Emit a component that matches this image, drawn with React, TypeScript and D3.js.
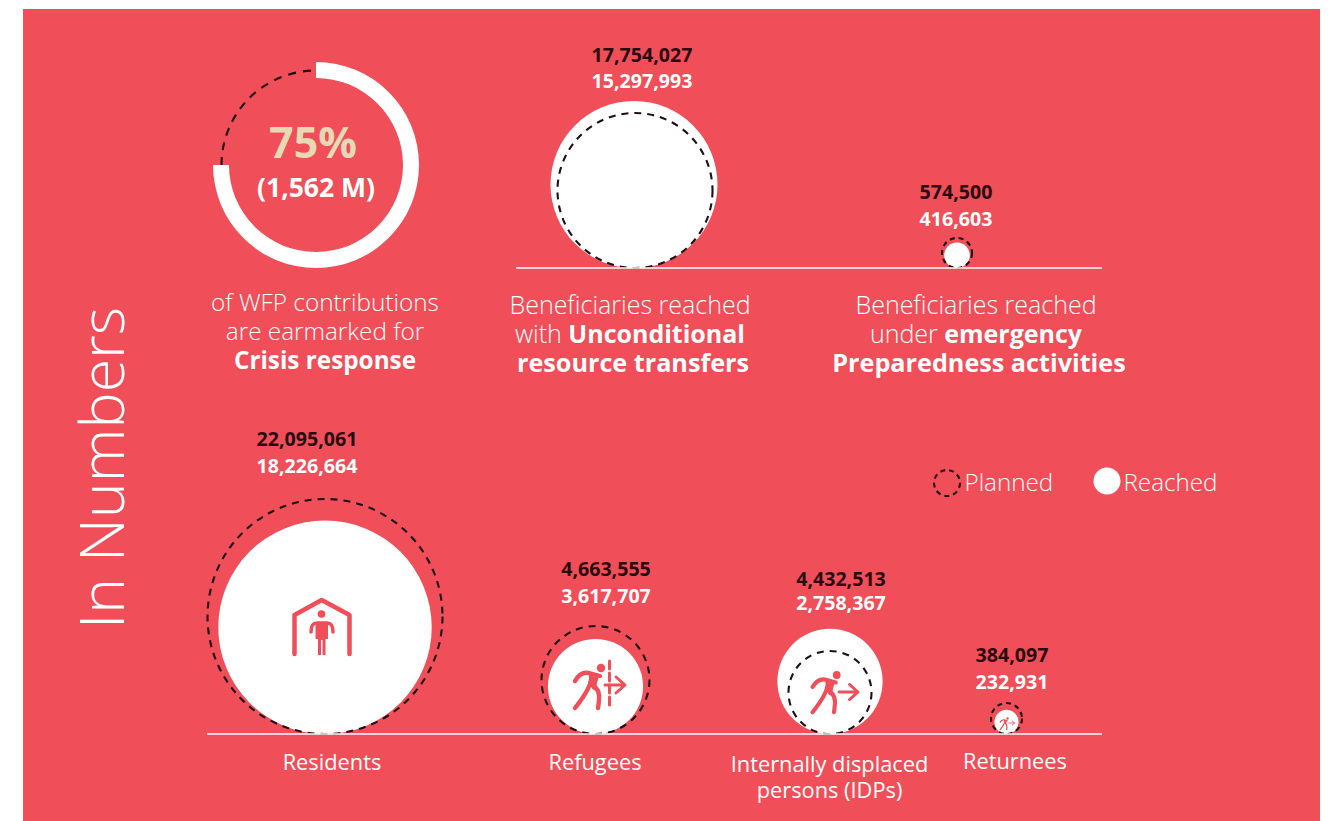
import React from 'react';
import * as d3 from 'd3';

const BG = '#F04E58';
const FONT = '"Open Sans", sans-serif';

// top row
const transferCats = ['Unconditional', 'Preparedness'];
const transferWhite = [17754027, 416603];
const transferDashed = [15297993, 574500];
const transferTop = ['17,754,027', '574,500'];
const transferBottom = ['15,297,993', '416,603'];

// bottom row
const groupCats = ['Residents', 'Refugees', 'IDPs', 'Returnees'];
const groupWhite = [18226664, 3617707, 4432513, 232931];
const groupDashed = [22095061, 4663555, 2758367, 384097];
const groupTop = ['22,095,061', '4,663,555', '4,432,513', '384,097'];
const groupBottom = ['18,226,664', '3,617,707', '2,758,367', '232,931'];

const sharePct = [75, 25];

const transferX = d3.scaleOrdinal<string, number>(transferCats, [634, 957]);
const groupX = d3.scaleOrdinal<string, number>(groupCats, [325, 595.5, 830, 1006.5]);
const transferR = d3.scaleSqrt().domain([0, 17754027]).range([0, 83.5]);
const groupR = d3.scaleSqrt().domain([0, 22095061]).range([0, 117.5]);

const BASE_TOP = 268;
const BASE_BOTTOM = 734;

const dash = { fill: 'none', stroke: '#1d1016', strokeWidth: 2.1, strokeDasharray: '8 6' };

const Num = ({ x, y, top, bottom, gap = 27 }: any) => (
  <g textAnchor="middle" fontWeight={700} fontSize={19.6}>
    <text x={x} y={y} fill="#2a0a10">{top}</text>
    <text x={x} y={y + gap} fill="#fff">{bottom}</text>
  </g>
);

const Lines = ({ x, y, rows, size = 24.3, gap = 29 }: any) => (
  <text textAnchor="middle" fontSize={size} fill="#fff" fontWeight={300}>
    {rows.map((r: any, i: number) => (
      <tspan key={i} x={x} y={y + i * gap} fontWeight={r[1] ? 700 : 300}>{r[0]}</tspan>
    ))}
  </text>
);

// origin sits on the head
const Walker = ({ x, y, s }: any) => (
  <g transform={`translate(${x},${y}) scale(${s})`} fill="none" stroke={BG} strokeWidth={4.4} strokeLinecap="round" strokeLinejoin="round">
    <circle cx={0} cy={0} r={4.2} fill={BG} stroke="none" />
    <path d="M-26 13 C-22 6 -17 4 -12 5 L-1 8" />
    <path d="M-10 7 C-8 16 -18 30 -26 40" />
    <path d="M-6 19 C0 24 -2 33 -3 40" />
    <path d="M-4 8 L-7 20 L-11 14 Z" fill={BG} strokeWidth={3.5} />
  </g>
);

const Arrow = ({ x, y, s }: any) => (
  <g transform={`translate(${x},${y}) scale(${s})`} fill="none" stroke={BG} strokeWidth={3} strokeLinecap="round" strokeLinejoin="round">
    <path d="M0 0 H20 M11 -8 L20 0 L11 8" />
  </g>
);

export default function App() {
  const arcs = d3.pie<number>().sort(null)(sharePct);
  const ring = d3.arc<any>().innerRadius(87).outerRadius(103);
  const thin = d3.path();
  thin.arc(0, 0, 94.5, arcs[1].startAngle - Math.PI / 2, arcs[1].endAngle - Math.PI / 2);

  return (
    <svg width={1335} height={821} style={{ position: 'absolute', left: 0, top: 0, display: 'block', background: '#fff' }} fontFamily={FONT}>
      <rect x={23} y={9} width={1297} height={812} fill={BG} />

      <text transform="translate(123.5,629) rotate(-90)" fontSize={60.8} fontWeight={300} fill="#fff">In Numbers</text>

      {/* contributions ring */}
      <g transform="translate(316,165)">
        <path d={ring(arcs[0]) as string} fill="#fff" />
        <path d={thin.toString()} {...dash} strokeDasharray="8 7" />
        <text x={-3} y={-7} textAnchor="middle" fontSize={43} fontWeight={700} fill="#E8D9B5">75%</text>
        <text y={32} textAnchor="middle" fontSize={26.5} fontWeight={700} fill="#fff">(1,562 M)</text>
      </g>
      <Lines x={325} y={311} rows={[['of WFP contributions'], ['are earmarked for'], ['Crisis response', 1]]} />

      {/* transfers */}
      {transferCats.map((c, i) => (
        <g key={c}>
          <circle cx={transferX(c)} cy={BASE_TOP - transferR(transferWhite[i])} r={transferR(transferWhite[i])} fill="#fff" />
          <circle cx={transferX(c) + (i ? 0 : 1)} cy={BASE_TOP - transferR(transferDashed[i])} r={transferR(transferDashed[i])} {...dash} strokeDasharray={i ? '5 4' : '7 6'} />
        </g>
      ))}
      <line x1={516} x2={1102} y1={BASE_TOP} y2={BASE_TOP} stroke="#fff" strokeWidth={1.5} />
      <Num x={642} y={62} top={transferTop[0]} bottom={transferBottom[0]} gap={26} />
      <Num x={956} y={199} top={transferTop[1]} bottom={transferBottom[1]} />
      <Lines x={630} y={314} size={25} rows={[['Beneficiaries reached']]} />
      <text x={630} y={343} textAnchor="middle" fontSize={25} fill="#fff" fontWeight={300}>with <tspan fontWeight={700}>Unconditional</tspan></text>
      <Lines x={633} y={372} size={25.2} rows={[['resource transfers', 1]]} />
      <Lines x={976} y={314} size={25} rows={[['Beneficiaries reached']]} />
      <text x={976} y={343} textAnchor="middle" fontSize={25} fill="#fff" fontWeight={300}>under <tspan fontWeight={700}>emergency</tspan></text>
      <Lines x={979} y={372} size={25.2} rows={[['Preparedness activities', 1]]} />

      {/* population groups */}
      {groupCats.map((c, i) => (
        <g key={c}>
          <circle cx={groupX(c)} cy={BASE_BOTTOM - groupR(groupWhite[i])} r={groupR(groupWhite[i])} fill="#fff" />
          <circle cx={groupX(c)} cy={BASE_BOTTOM - groupR(groupDashed[i])} r={groupR(groupDashed[i])} {...dash} strokeDasharray={i === 3 ? '5 4' : '7 6'} />
        </g>
      ))}
      <line x1={207} x2={1102} y1={BASE_BOTTOM} y2={BASE_BOTTOM} stroke="#fff" strokeWidth={1.5} />
      <Num x={307} y={446} top={groupTop[0]} bottom={groupBottom[0]} />
      <Num x={606} y={576} top={groupTop[1]} bottom={groupBottom[1]} />
      <Num x={841} y={586} top={groupTop[2]} bottom={groupBottom[2]} gap={24} />
      <Num x={1012} y={662} top={groupTop[3]} bottom={groupBottom[3]} />

      {/* shelter icon */}
      <g fill="none" stroke={BG} strokeWidth={4.5} strokeLinecap="round" strokeLinejoin="round">
        <path d="M294.5 654 V615 L321.7 600 L349.5 615 V654" />
        <path d="M311 632 C311 625 313 623 317 623 H327 C331 623 333 625 333 632" strokeWidth={3.5} />
      </g>
      <circle cx={321.5} cy={614} r={3.8} fill={BG} />
      <path d="M315.5 622 H328 V639 H325.5 V655 H322.5 V640 H321 V655 H318 V639 H315.5 Z" fill={BG} />

      {/* refugee icon */}
      <Walker x={601} y={668} s={1} />
      <path d="M609.5 661 V709" stroke={BG} strokeWidth={3} strokeDasharray="8 4" strokeLinecap="round" />
      <Arrow x={605} y={685} s={1} />

      {/* idp icon */}
      <Walker x={836.7} y={675} s={0.93} />
      <Arrow x={839} y={692} s={0.95} />

      {/* returnee icon */}
      <Walker x={1007.5} y={718.5} s={0.28} />
      <Arrow x={1009} y={723} s={0.28} />

      <text textAnchor="middle" fontSize={21.8} fill="#fff" fontWeight={400}>
        <tspan x={332} y={769.5}>Residents</tspan>
        <tspan x={595} y={769.5}>Refugees</tspan>
        <tspan x={829.5} y={772}>Internally displaced</tspan>
        <tspan x={829.5} y={798}>persons (IDPs)</tspan>
        <tspan x={1015} y={768.5}>Returnees</tspan>
      </text>

      {/* legend */}
      <circle cx={947} cy={483} r={13} {...dash} strokeDasharray="5 4" />
      <text x={964.5} y={491} fontSize={24.2} fontWeight={300} fill="#fff">Planned</text>
      <circle cx={1107} cy={481} r={13.5} fill="#fff" />
      <text x={1123.5} y={491} fontSize={24.2} fontWeight={300} fill="#fff">Reached</text>
    </svg>
  );
}
